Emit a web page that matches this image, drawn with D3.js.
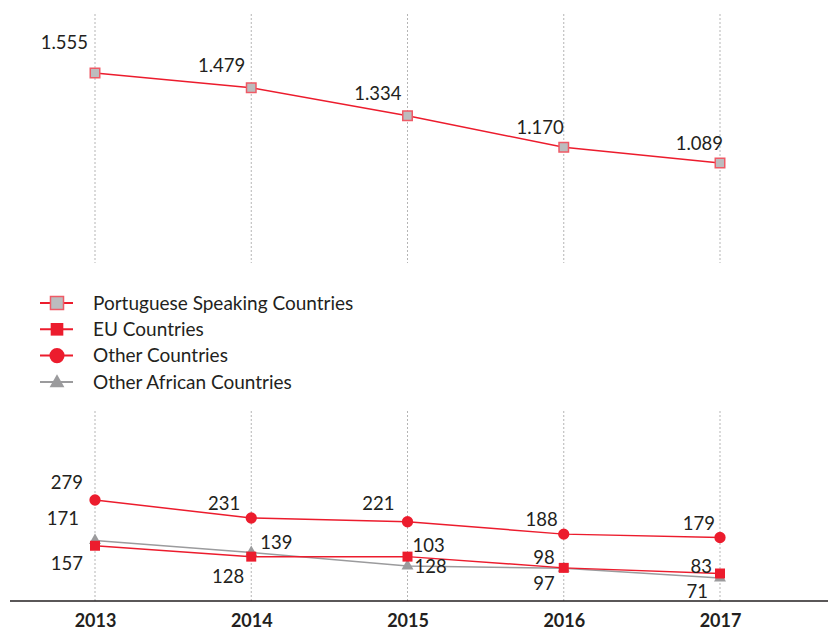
<!DOCTYPE html>
<html>
<head>
<meta charset="utf-8">
<script src="https://cdn.jsdelivr.net/npm/d3@7"></script>
<style>
  body { margin: 0; background: #fff; }
  text { font-family: Lato, "Noto Sans", sans-serif; fill: #231f20; }
</style>
</head>
<body>
<svg id="chart" width="828" height="630"></svg>
<script>
var years = [2013, 2014, 2015, 2016, 2017];
var portugueseSpeaking = [1555, 1479, 1334, 1170, 1089];
var euCountries = [157, 128, 128, 98, 83];
var otherCountries = [279, 231, 221, 188, 179];
var otherAfrican = [171, 139, 103, 97, 71];
var seriesNames = ['Portuguese Speaking Countries', 'EU Countries', 'Other Countries', 'Other African Countries'];

// label nudges around each point: [dx, dy, anchor]
var pslLabelPos = [[-7, -24, 'end'], [-6, -16, 'end'], [-6, -16, 'end'], [0, -13, 'end'], [3, -13, 'end']];
var euLabelPos = [[-12, 24, 'end'], [-7, 26, 'end'], [7, 16, 'start'], [-9, -4, 'end'], [-8, -1, 'end']];
var otherLabelPos = [[-12, -11, 'end'], [-11, -8, 'end'], [-13, -12, 'end'], [-6, -8, 'end'], [-5, -8, 'end']];
var africanLabelPos = [[-16, -16, 'end'], [9, -4, 'start'], [5, -14, 'start'], [-9, 22, 'end'], [-12, 20, 'end']];

var RED = '#ec1c2d';
var GREY = '#9b9b9d';
var width = 828, height = 630;
var svg = d3.select('#chart');

var x = d3.scalePoint().domain(years).range([95, 720]);
// the chart is split: big series on top, the small ones below the legend
var yTop = d3.scaleLinear().domain([1089, 1555]).range([163, 73]);
var yBottom = d3.scaleLinear().domain([71, 279]).range([578, 500]);

var series = [
  {name: seriesNames[3], values: otherAfrican, y: yBottom, color: GREY, fill: GREY, stroke: 'none', symbol: d3.symbolTriangle, size: 62, legendSize: 95, labels: africanLabelPos},
  {name: seriesNames[1], values: euCountries, y: yBottom, color: RED, fill: RED, stroke: 'none', symbol: d3.symbolSquare, size: 100, legendSize: 160, labels: euLabelPos},
  {name: seriesNames[2], values: otherCountries, y: yBottom, color: RED, fill: RED, stroke: 'none', symbol: d3.symbolCircle, size: 100, legendSize: 180, labels: otherLabelPos},
  {name: seriesNames[0], values: portugueseSpeaking, y: yTop, color: RED, fill: '#bcbcbe', stroke: '#ef5a66', symbol: d3.symbolSquare, size: 90, legendSize: 170, labels: pslLabelPos}
];

// dotted year gridlines, broken where the legend sits
var gridSegments = [[14, 263], [411, 601]];
gridSegments.forEach(function(seg) {
  svg.append('g').selectAll('line').data(years).enter()
    .append('line')
      .attr('x1', function(d) { return x(d); })
      .attr('x2', function(d) { return x(d); })
      .attr('y1', seg[0])
      .attr('y2', seg[1])
      .attr('stroke', '#b5b5b5')
      .attr('stroke-width', 1)
      .attr('stroke-dasharray', '2,2');
});

// baseline + year labels
svg.append('line')
  .attr('x1', 10).attr('x2', width)
  .attr('y1', 601).attr('y2', 601)
  .attr('stroke', '#231f20')
  .attr('stroke-width', 1.6);

var xAxis = svg.append('g')
  .attr('transform', 'translate(0,601)')
  .call(d3.axisBottom(x).tickSize(0).tickPadding(13));
xAxis.select('.domain').remove();
xAxis.selectAll('text')
  .attr('font-family', 'Lato, "Noto Sans", sans-serif')
  .attr('font-size', 18)
  .attr('font-weight', 'bold')
  .attr('fill', '#1a1a1a');

var line = d3.line();

series.forEach(function(s) {
  var pts = s.values.map(function(v, i) { return [x(years[i]), s.y(v)]; });

  svg.append('path')
    .attr('d', line(pts))
    .attr('fill', 'none')
    .attr('stroke', s.color)
    .attr('stroke-width', 1.5);
});

series.forEach(function(s) {
  var g = svg.append('g');
  g.selectAll('path').data(s.values).enter()
    .append('path')
      .attr('d', d3.symbol().type(s.symbol).size(s.size))
      .attr('transform', function(v, i) { return 'translate(' + x(years[i]) + ',' + s.y(v) + ')'; })
      .attr('fill', s.fill)
      .attr('stroke', s.stroke)
      .attr('stroke-width', 1.5);

  g.selectAll('text').data(s.values).enter()
    .append('text')
      .attr('x', function(v, i) { return x(years[i]) + s.labels[i][0]; })
      .attr('y', function(v, i) { return s.y(v) + s.labels[i][1]; })
      .attr('text-anchor', function(v, i) { return s.labels[i][2]; })
      .attr('font-size', 18.5)
      .text(function(v) { return d3.format(',')(v).replace(',', '.'); });
});

// legend
var legendOrder = [series[3], series[1], series[2], series[0]];
var legend = svg.append('g').attr('transform', 'translate(40,303)');
legendOrder.forEach(function(s, i) {
  var row = legend.append('g').attr('transform', 'translate(0,' + (i * 26.3) + ')');
  row.append('line')
    .attr('x1', 0).attr('x2', 33)
    .attr('stroke', s.color)
    .attr('stroke-width', 2);
  row.append('path')
    .attr('d', d3.symbol().type(s.symbol).size(s.legendSize))
    .attr('transform', 'translate(17,' + (s.symbol === d3.symbolTriangle ? 1 : 0) + ')')
    .attr('fill', s.fill)
    .attr('stroke', s.stroke)
    .attr('stroke-width', 1.5);
  row.append('text')
    .attr('x', 53)
    .attr('dy', '0.35em')
    .attr('font-size', 19)
    .text(s.name);
});
</script>
</body>
</html>
